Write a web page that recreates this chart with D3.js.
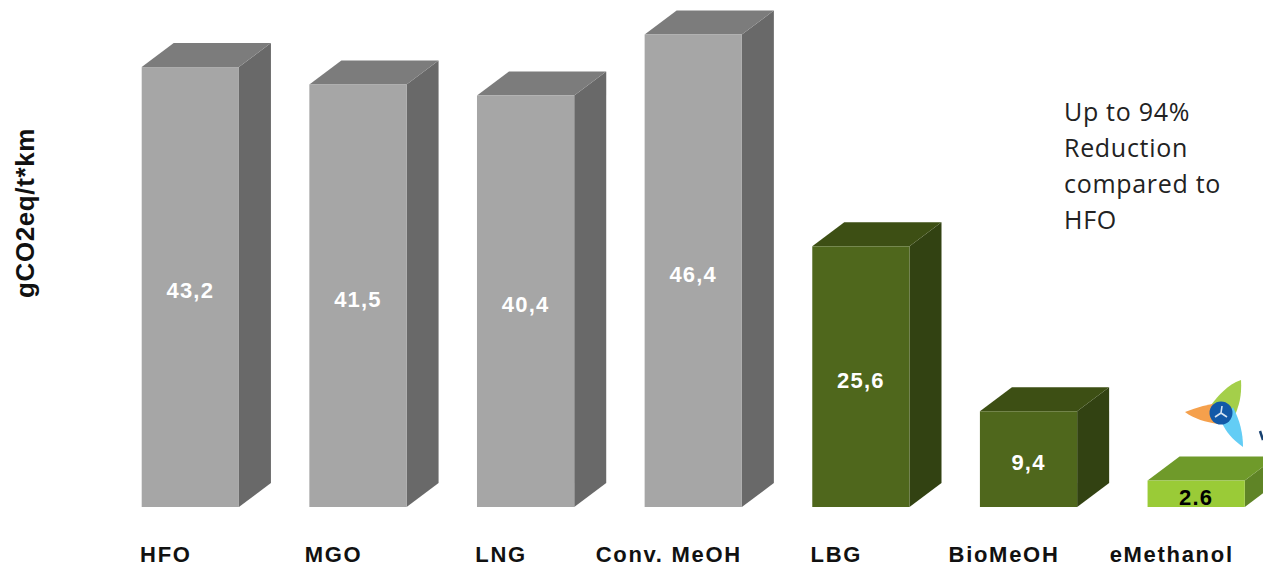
<!DOCTYPE html>
<html>
<head>
<meta charset="utf-8">
<script src="https://cdn.jsdelivr.net/npm/d3@7/dist/d3.min.js"></script>
<style>
html,body{margin:0;padding:0;background:#fff;overflow:hidden}
svg{display:block}
text{font-family:"Liberation Sans",Arial,sans-serif}
text.note{font-family:"Open Sans",sans-serif}
</style>
</head>
<body>
<svg id="chart" width="1263" height="568"></svg>
<script>
const categories = ["HFO","MGO","LNG","Conv. MeOH","LBG","BioMeOH","eMethanol"];
const values = [43.2,41.5,40.4,46.4,25.6,9.4,2.6];
const valueLabels = ["43,2","41,5","40,4","46,4","25,6","9,4","2.6"];
const fuelGroups = ["fossil","fossil","fossil","fossil","bio","bio","electro"];
const noteLines = ["Up to 94%","Reduction","compared to","HFO"];
const yTitle = "gCO2eq/t*km";

const palette = {
  fossil:{front:"#a6a6a6",top:"#7c7c7c",side:"#696969",label:"#ffffff"},
  bio:{front:"#4f671c",top:"#3d4f14",side:"#324212",label:"#ffffff"},
  electro:{front:"#9acb37",top:"#6f9a2a",side:"#5f8426",label:"#000000"}
};

const svg = d3.select("#chart");
const x = d3.scaleBand().domain(categories).range([106.5,1280]).paddingInner(0.42).paddingOuter(0.21);
const y = d3.scaleLinear().domain([0,46.4]).range([507,34.5]);
const depthX = 32, depthY = -24;

// Each bar is a front rectangle plus top and side faces offset by the same depth
const bars = svg.append("g").selectAll("g").data(categories).join("g");
bars.append("path")
  .attr("fill",(d,i)=>palette[fuelGroups[i]].side)
  .attr("d",(d,i)=>{
    const r=x(d)+x.bandwidth(), t=y(values[i]), b=y(0);
    return `M${r},${t}l${depthX},${depthY}L${r+depthX},${b+depthY}L${r},${b}Z`;
  });
bars.append("path")
  .attr("fill",(d,i)=>palette[fuelGroups[i]].top)
  .attr("d",(d,i)=>{
    const l=x(d), t=y(values[i]), w=x.bandwidth();
    return `M${l},${t}l${depthX},${depthY}h${w}l${-depthX},${-depthY}Z`;
  });
bars.append("rect")
  .attr("x",d=>x(d)).attr("width",x.bandwidth())
  .attr("y",(d,i)=>y(values[i]))
  .attr("height",(d,i)=>y(0)-y(values[i]))
  .attr("fill",(d,i)=>palette[fuelGroups[i]].front);

// Value labels sit at the middle of each front face
bars.append("text")
  .attr("x",d=>x(d)+x.bandwidth()/2)
  .attr("y",(d,i)=>(y(values[i])+y(0))/2+11)
  .attr("text-anchor","middle")
  .attr("font-size",22).attr("font-weight",700)
  .attr("letter-spacing",1.2)
  .attr("fill",(d,i)=>palette[fuelGroups[i]].label)
  .text((d,i)=>valueLabels[i]);

// Category names, shifted left of their bars
svg.append("g").selectAll("text").data(categories).join("text")
  .attr("x",d=>x(d)+x.bandwidth()/2-24.5)
  .attr("y",562)
  .attr("text-anchor","middle")
  .attr("font-size",22).attr("font-weight",700)
  .attr("letter-spacing",1.7)
  .attr("fill","#111")
  .text(d=>d);

svg.append("text")
  .attr("transform","translate(34,213) rotate(-90)")
  .attr("text-anchor","middle")
  .attr("font-size",26).attr("font-weight",700)
  .attr("letter-spacing",0.6)
  .attr("fill","#111")
  .text(yTitle);

svg.append("g").selectAll("text").data(noteLines).join("text")
  .attr("class","note")
  .attr("x",1064)
  .attr("y",(d,i)=>121+i*36)
  .attr("font-size",25)
  .attr("letter-spacing",0.7)
  .attr("fill","#222")
  .text(d=>d);

// Wind turbine emblem above the eMethanol bar
const emblem = svg.append("g").attr("transform","translate(1221,413)");
emblem.append("path").attr("fill","#a4cf4a").attr("d","M-10,-8C-2,-18 6,-28 20,-33C21,-18 18,-6 13,4Z");
emblem.append("path").attr("fill","#f5a04c").attr("d","M-36,-1C-24,-6 -12,-9 -1,-10L-3,11C-15,9 -27,6 -36,-1Z");
emblem.append("path").attr("fill","#63cdf5").attr("d","M1,10L12,-6C19,8 22,20 22,34C12,27 5,19 1,10Z");
emblem.append("circle").attr("r",11.5).attr("cx",0).attr("cy",0).attr("fill","#1259a8");
emblem.append("path").attr("stroke","#d5e3f2").attr("stroke-width",1.6).attr("fill","none")
  .attr("d","M0,0L1,-7M0,0L-6,4M0,0L6,4");
svg.append("path").attr("stroke","#17406f").attr("stroke-width",2.5).attr("fill","none")
  .attr("d","M1260,431L1263,440");
</script>
</body>
</html>
